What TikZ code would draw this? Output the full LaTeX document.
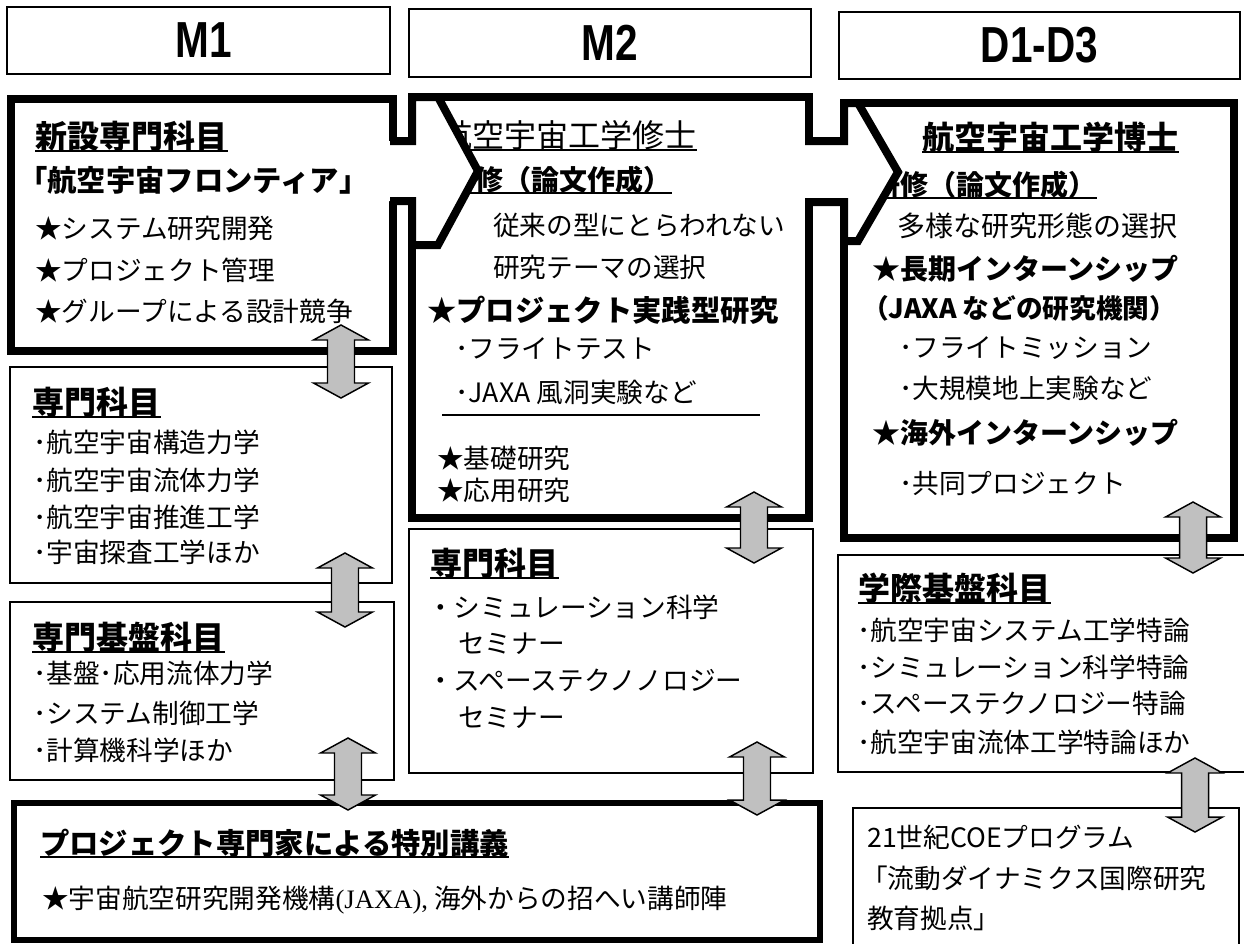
\documentclass[tikz,border=0pt]{standalone}
\usepackage{fontspec}
\setmainfont{Noto Sans CJK JP}
\newfontfamily\hdrfont[FakeStretch=0.8]{Liberation Sans}
\newfontfamily\serifen{Liberation Serif}
\usetikzlibrary{fit,calc}
\newcommand\dblarr[2]{%
  \draw[dblar] (#1) -- ++(27.5,15) -- ++(-14,0) -- ($(#2)+(13.5,-15)$) -- ++(14,0) -- (#2)
    -- ++(-27.5,-15) -- ++(14,0) -- ($(#1)+(-13.5,15)$) -- ++(-14,0) -- cycle;}
\begin{document}
\begin{tikzpicture}[x=0.75pt,y=-0.75pt,
  thickbox/.style={draw, line width=6pt, inner sep=0pt, miter limit=10},
  botbox/.style={draw, line width=5.2pt, inner sep=0pt},
  thinbox/.style={draw, line width=1.8pt, inner sep=0pt},
  hdrbox/.style={draw, line width=1.6pt, inner sep=0pt},
  jt/.style={anchor=base west, inner sep=0pt},
  hdr/.style={inner sep=0pt, font=\hdrfont\bfseries\fontsize{38}{44}\selectfont},
  f20/.style={font=\fontsize{20}{24}\selectfont},
  f21/.style={font=\fontsize{21}{25}\selectfont},
  fB20/.style={font=\fontsize{20}{24}\selectfont\bfseries},
  fB21/.style={font=\fontsize{21}{25}\selectfont\bfseries},
  fB22/.style={font=\fontsize{22}{26}\selectfont\bfseries},
  fT/.style={font=\fontsize{24}{28}\selectfont\bfseries},
  fTr/.style={font=\fontsize{24}{28}\selectfont},
  ul/.style={line width=1.8pt},
  blockar/.style={line width=6pt, miter limit=10},
  dblar/.style={draw=black, line width=1.1pt, fill={rgb,255:red,192;green,192;blue,192}},
  sepline/.style={line width=1.1pt}
]
\path[use as bounding box, fill=white] (0,0) rectangle (1244,943);
\clip (0,0) rectangle (1244,943);

% headers
\node[hdrbox, fit={(7,7) (390,74)}] (h1) {};
\node[hdrbox, fit={(409,9) (811,77)}] (h2) {};
\node[hdrbox, fit={(839,12) (1240,79)}] (h3) {};
\node[hdr] (h1t) at ([xshift=4pt]h1.center) {M1};
\node[hdr] (h2t) at (h2.center) {M2};
\node[hdr] (h3t) at (h3.center) {D1-D3};

% boxes
\node[thickbox, fit={(11,99) (393,351)}] (b1) {};
\node[thickbox, fit={(412,97) (809,518)}] (b2) {};
\node[thickbox, fit={(844,103) (1234,538)}] (b3) {};
\node[thinbox, fit={(10,367) (392,583)}] (b1b) {};
\node[thinbox, fit={(10,602) (394,780)}] (b1c) {};
\node[thinbox, fit={(409,529) (813,773)}] (b2b) {};
\node[thinbox, fit={(838,555) (1252,772)}] (b3b) {};
\node[thinbox, fit={(853,808) (1239,965)}] (coe) {};
\node[botbox, fit={(14,803) (820,940)}] (bot) {};

% box 1
\node[jt,fT] (t11) at (35,148) {新設専門科目};
\node[jt,fB22] (t12) at (18,191) {「航空宇宙フロンティア」};
\node[jt,f20] (t13) at (35,238) {★システム研究開発};
\node[jt,f20] (t14) at (35,280) {★プロジェクト管理};
\node[jt,f20] (t15) at (35,321) {★グループによる設計競争};

% box 2
\node[jt,fTr] (t21) at (440,147) {航空宇宙工学修士};
\node[jt,fB21] (t22) at (447,190) {研修（論文作成）};
\node[jt,f20] (t23) at (493,235) {従来の型にとらわれない};
\node[jt,f20] (t24) at (493,277) {研究テーマの選択};
\node[jt,fB22] (t25) at (427,321) {★プロジェクト実践型研究};
\node[jt,f20] (t26) at (455,358) {･フライトテスト};
\node[jt,f20] (t27) at (455,402) {･JAXA 風洞実験など};
\node[jt,f20] (t28) at (437,468) {★基礎研究};
\node[jt,f20] (t29) at (437,500) {★応用研究};
\draw[sepline] (442,415) -- (760,415);

% box 3
\node[jt,fT] (t31) at (922,149) {航空宇宙工学博士};
\node[jt,fB21] (t32) at (872,195) {研修（論文作成）};
\node[jt,f21] (t33) at (897,236) {多様な研究形態の選択};
\node[jt,fB21] (t34) at (872,279) {★長期インターンシップ};
\node[jt,fB20] (t35) at (862,318) {（JAXA などの研究機関）};
\node[jt,f20] (t36) at (899,357) {･フライトミッション};
\node[jt,f20] (t37) at (899,398) {･大規模地上実験など};
\node[jt,fB21] (t38) at (872,443) {★海外インターンシップ};
\node[jt,f20] (t39) at (899,493) {･共同プロジェクト};

% box 1b
\node[jt,fT] (t41) at (32,414) {専門科目};
\node[jt,f20] (t42) at (33,452) {･航空宇宙構造力学};
\node[jt,f20] (t43) at (33,490) {･航空宇宙流体力学};
\node[jt,f20] (t44) at (33,527) {･航空宇宙推進工学};
\node[jt,f20] (t45) at (33,562) {･宇宙探査工学ほか};

% box 1c
\node[jt,fT] (t51) at (32,649) {専門基盤科目};
\node[jt,f20] (t52) at (33,683) {･基盤･応用流体力学};
\node[jt,f20] (t53) at (33,723) {･システム制御工学};
\node[jt,f20] (t54) at (33,760) {･計算機科学ほか};

% box 2b
\node[jt,fT] (t61) at (430,575) {専門科目};
\node[jt,f20] (t62) at (427,617) {・シミュレーション科学};
\node[jt,f20] (t63) at (458,653) {セミナー};
\node[jt,f20] (t64) at (427,690) {・スペーステクノノロジー};
\node[jt,f20] (t65) at (458,727) {セミナー};

% box 3b
\node[jt,fT] (t71) at (858,600) {学際基盤科目};
\node[jt,f20] (t72) at (857,640) {･航空宇宙システム工学特論};
\node[jt,f20] (t73) at (857,677) {･シミュレーション科学特論};
\node[jt,f20] (t74) at (857,713) {･スペーステクノロジー特論};
\node[jt,f20] (t75) at (857,752) {･航空宇宙流体工学特論ほか};

% COE
\node[jt,f20] (t81) at (867,847) {21世紀COEプログラム};
\node[jt,f20] (t82) at (861,888) {「流動ダイナミクス国際研究};
\node[jt,f20] (t83) at (867,928) {教育拠点」};

% bottom
\node[jt,fB22] (t91) at (40,854) {プロジェクト専門家による特別講義};
\node[jt,f20] (t92) at (42,908) {★宇宙航空研究開発機構{\serifen(JAXA),} 海外からの招へい講師陣};

\foreach \n in {t11,t21,t22,t31,t32,t41,t51,t61,t71,t91}
  \draw[ul] ([yshift=-2.2pt]\n.base west) -- ([yshift=-2.2pt]\n.base east);

% block arrows
\fill[white] (389,141) -- (412,141) -- (412,97) -- (438,97) -- (478,171) -- (438,245) -- (412,245) -- (412,201) -- (389,201) -- cycle;
\draw[blockar] (390,141) -- (412,141) -- (412,97) -- (438,97) -- (478,171) -- (438,245) -- (412,245) -- (412,201) -- (390,201);
\fill[white] (804,141) -- (844,141) -- (844,103) -- (858,103) -- (898,172) -- (858,241) -- (844,241) -- (844,202) -- (804,202) -- cycle;
\draw[blockar] (805,141) -- (844,141) -- (844,103) -- (858,103) -- (898,172) -- (858,241) -- (844,241) -- (844,202) -- (805,202);

% double arrows
\coordinate (a1t) at (341,325); \coordinate (a1b) at (341,398);
\coordinate (a2t) at (345,553); \coordinate (a2b) at (345,627);
\coordinate (a3t) at (348,738); \coordinate (a3b) at (348,810);
\coordinate (a4t) at (754,492); \coordinate (a4b) at (754,563);
\coordinate (a5t) at (757,742); \coordinate (a5b) at (757,815);
\coordinate (a6t) at (1193,502); \coordinate (a6b) at (1193,573);
\coordinate (a7t) at (1195,758); \coordinate (a7b) at (1195,832);
\dblarr{a1t}{a1b}
\dblarr{a2t}{a2b}
\dblarr{a3t}{a3b}
\dblarr{a4t}{a4b}
\dblarr{a5t}{a5b}
\dblarr{a6t}{a6b}
\dblarr{a7t}{a7b}
\end{tikzpicture}
\end{document}
